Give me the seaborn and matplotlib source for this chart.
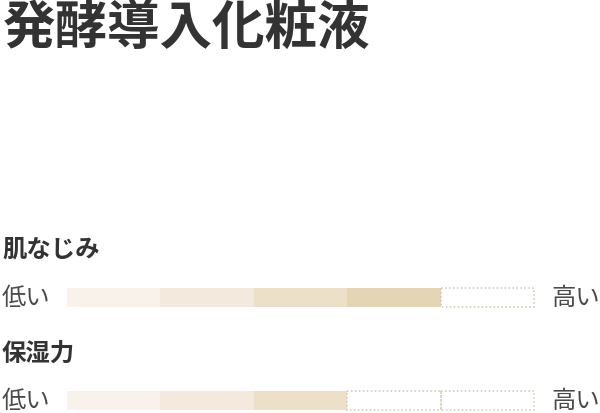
import numpy as np
import pandas as pd
import matplotlib
matplotlib.use("Agg")
import matplotlib.pyplot as plt
from matplotlib.colors import ListedColormap
from matplotlib.patches import Rectangle
import seaborn as sns

sns.set_theme(style="white")
plt.rcParams['font.family'] = ['Noto Sans CJK JP', 'DejaVu Sans']

title = "発酵導入化粧液"
items = ["肌なじみ", "保湿力"]
scores = [4, 3]
n_steps = 5
low_label = "低い"
high_label = "高い"
step_colors = ["#f8f2eb", "#f3e9dc", "#ece0c9", "#e4d5b5", "#ddcca8"]

W, H = 600, 413
fig = plt.figure(figsize=(W / 100, H / 100), dpi=100)
fig.patch.set_facecolor("white")


def px(x, y):
    return x / W, 1 - y / H


fig.text(*px(3, 44), title, fontsize=37.8, fontweight="bold", color="#333333", va="baseline")

# row layout in pixels: (label baseline, bar top, bar bottom)
rows = [(257, 288, 307), (361, 391, 410)]
bar_left, bar_right = 67, 534

for name, score, (lab_y, top, bottom) in zip(items, scores, rows):
    fig.text(*px(2, lab_y), name, fontsize=17.6, fontweight="bold", color="#333333", va="baseline")
    fig.text(*px(2, bottom - 2), low_label, fontsize=17.5, color="#4a4a4a", va="baseline")
    fig.text(*px(551, bottom - 2), high_label, fontsize=17.5, color="#4a4a4a", va="baseline")

    ax = fig.add_axes([bar_left / W, 1 - bottom / H, (bar_right - bar_left) / W, (bottom - top) / H])
    vals = np.arange(n_steps, dtype=float)
    vals[score:] = np.nan
    df = pd.DataFrame([vals], columns=range(n_steps))
    sns.heatmap(df, ax=ax, cmap=ListedColormap(step_colors), vmin=-0.5, vmax=n_steps - 0.5,
                cbar=False, linewidths=0, xticklabels=False, yticklabels=False)
    for i in range(score, n_steps):
        ax.add_patch(Rectangle((i, 0), 1, 1, fill=False, edgecolor="#cfc9ab",
                               linestyle=(0, (1, 1.6)), linewidth=1.1, clip_on=False, zorder=3))

fig.savefig("out.png", dpi=100, facecolor="white")
